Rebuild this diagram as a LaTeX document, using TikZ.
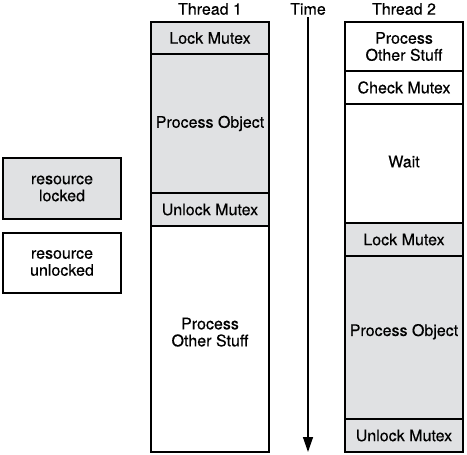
\documentclass[tikz,border=0pt]{standalone}
\usepackage{fontspec}
\setmainfont{TeX Gyre Heros}[FakeBold=0.4]
\usepackage{tikz}
\usetikzlibrary{arrows.meta,positioning}
\usepackage{xcolor}
\definecolor{lockgray}{RGB}{224,225,227}
% lift a label inside a tall box
\newcommand{\liftup}[1]{\rule[-#1]{0pt}{0pt}}

\begin{document}
\begin{tikzpicture}[
  x=1pt, y=-1pt,
  block/.style={draw, line width=1.4pt, outer sep=0pt, inner sep=1pt, minimum width=118pt, align=center, font=\fontsize{16}{17}\selectfont},
  locked/.style={block, fill=lockgray},
  head/.style={inner sep=2pt, font=\fontsize{16}{17}\selectfont},
  arrow/.style={-{Triangle[length=15pt,width=10pt]}, line width=1.4pt},
]
  \useasboundingbox (0,0) rectangle (467,455);

  % Headers
  \node[head] (th1) at (210,9) {Thread 1};
  \node[head] (time) at (308,9) {Time};
  \node[head] (th2) at (404,9) {Thread 2};

  % Thread 1
  \node[locked, anchor=north west, minimum height=32pt] (a1) at (151,22) {Lock Mutex};
  \node[locked, below=0pt of a1, minimum height=139pt] (a2) {Process Object};
  \node[locked, below=0pt of a2, minimum height=33pt] (a3) {Unlock Mutex};
  \node[block, below=0pt of a3, minimum height=226pt] (a4) {Process\\Other Stuff\liftup{14pt}};

  % Thread 2
  \node[block, anchor=north west, minimum height=49pt] (b1) at (345,22) {Process\\Other Stuff};
  \node[block, below=0pt of b1, minimum height=33pt] (b2) {Check Mutex};
  \node[block, below=0pt of b2, minimum height=119pt] (b3) {Wait\liftup{4pt}};
  \node[locked, below=0pt of b3, minimum height=33pt] (b4) {Lock Mutex};
  \node[locked, below=0pt of b4, minimum height=163pt] (b5) {Process Object\liftup{15pt}};
  \node[locked, below=0pt of b5, minimum height=33pt] (b6) {Unlock Mutex};

  % Legend
  \node[locked, anchor=north west, minimum height=61pt] (key1) at (3,158) {resource\\locked};
  \node[block, anchor=north west, minimum height=60pt] (key2) at (3,233) {resource\\unlocked};

  % Time axis
  \coordinate (tend) at (308,452);
  \draw[arrow] (time) -- (tend);
\end{tikzpicture}
\end{document}
